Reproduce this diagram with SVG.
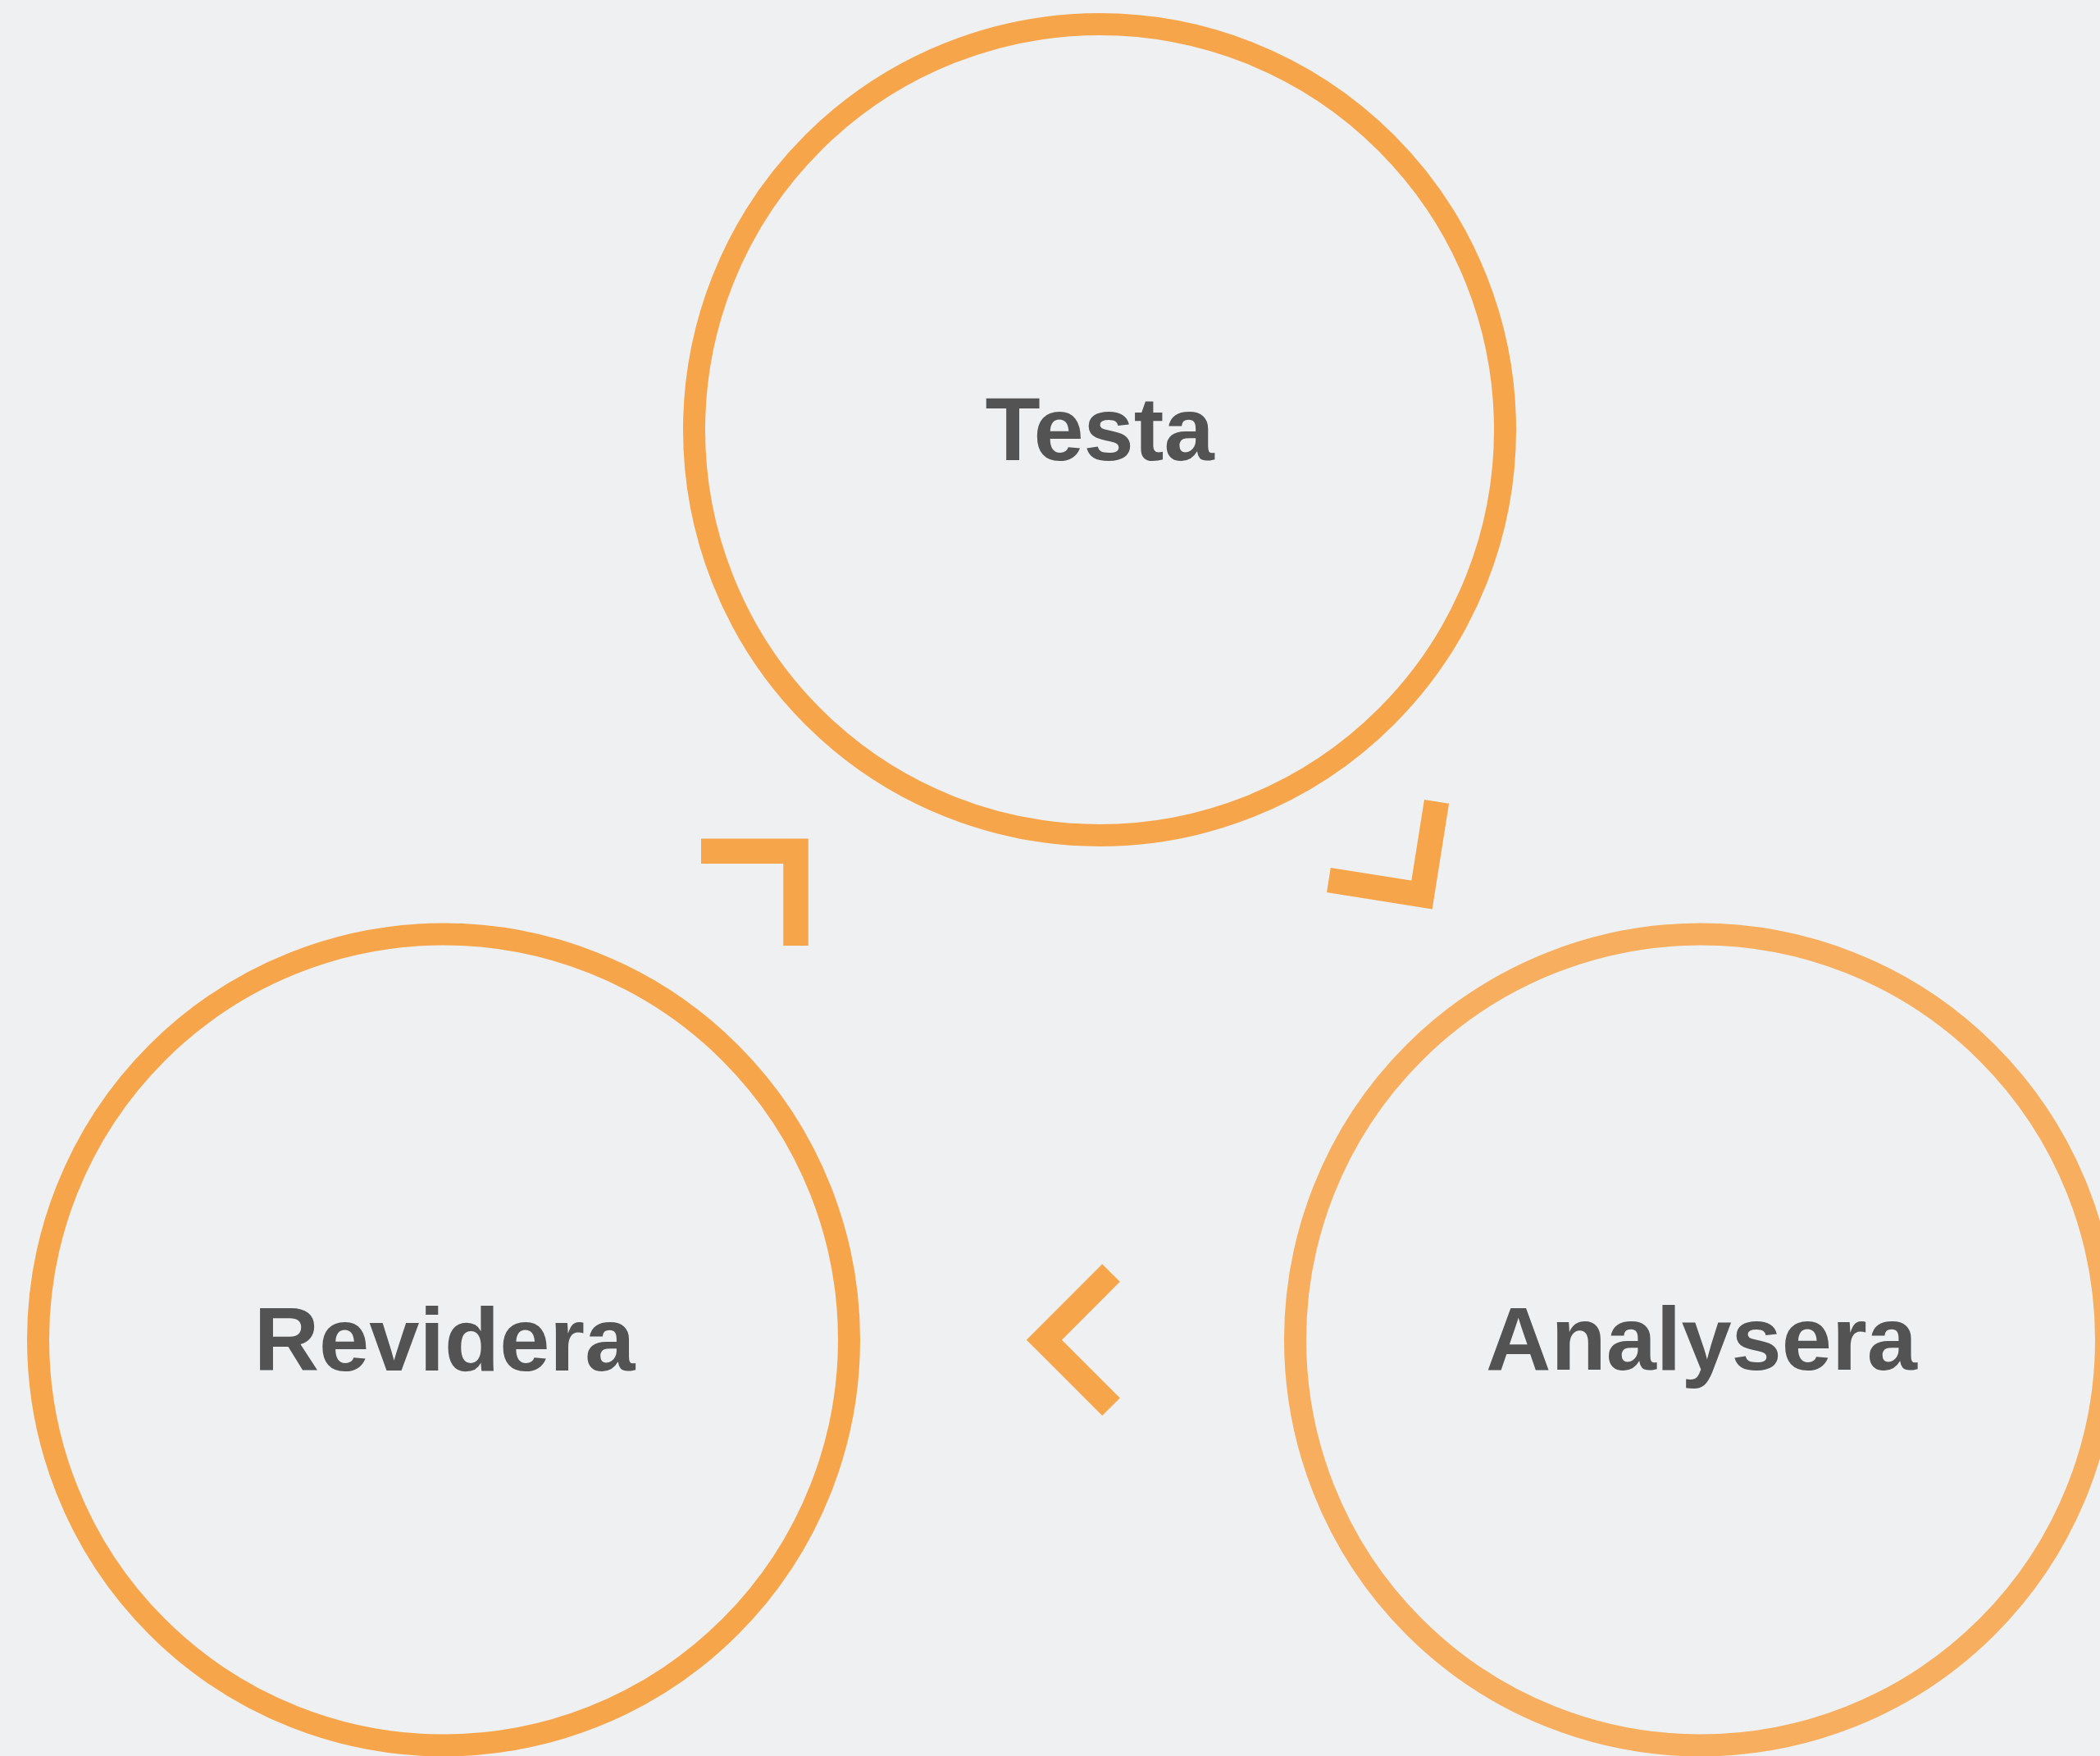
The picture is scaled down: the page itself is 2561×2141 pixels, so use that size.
<svg xmlns="http://www.w3.org/2000/svg" width="2561" height="2141" viewBox="0 0 2561 2141">
<style>
.node{fill:none;stroke:#F7A54B;stroke-width:27}
.node.light{stroke:#F7AE5E}
.label{font-family:"Liberation Sans",Arial,sans-serif;font-weight:bold;font-size:110px;fill:#535353;text-anchor:middle}
.conn{fill:none;stroke:#F7A54B;stroke-width:30.5;stroke-linejoin:miter;stroke-linecap:butt;stroke-miterlimit:10}
</style>
<rect width="2561" height="2141" fill="#EFF0F2"/>
<g id="node-testa">
<circle class="node" cx="1341" cy="524" r="494.5"/>
<text class="label" x="1341" y="561">Testa</text>
</g>
<g id="node-revidera">
<circle class="node" cx="541" cy="1633.5" r="494.5"/>
<text class="label" x="542" y="1671">Revidera</text>
</g>
<g id="node-analysera">
<circle class="node light" cx="2074" cy="1633.5" r="494.5"/>
<text class="label" x="2075" y="1670">Analysera</text>
</g>
<g id="connectors">
<path class="conn" d="M855,1037.7 H970.5 V1153"/>
<path class="conn" d="M1620.4,1073 L1734,1091 L1752,977.4"/>
<path class="conn" d="M1355,1552 L1273.4,1633.7 L1355,1715.3"/>
</g>
</svg>
